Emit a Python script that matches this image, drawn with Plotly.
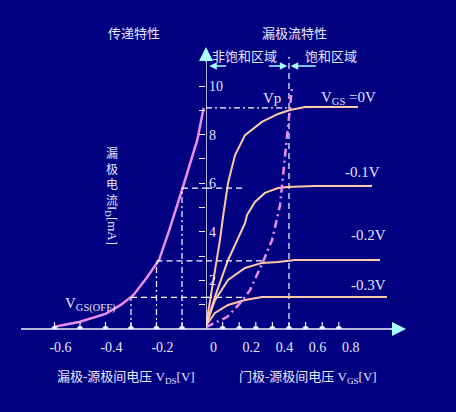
import plotly.graph_objects as go

# ---------------- data ----------------
# Transfer characteristic: drain current vs gate-source voltage
transfer_vgs = [-0.60, -0.50, -0.40, -0.34, -0.29, -0.24, -0.19, -0.15, -0.10, -0.04, -0.015]
transfer_id = [0.09, 0.30, 0.62, 0.99, 1.40, 2.09, 2.84, 4.07, 5.72, 7.78, 9.10]

# Drain characteristics: drain current vs drain-source voltage, one curve per V_GS
curve_labels = ["V<sub>GS</sub> =0V", "-0.1V", "-0.2V", "-0.3V"]
vds_0v = [0, 0.042, 0.084, 0.104, 0.134, 0.175, 0.235, 0.337, 0.434, 0.506, 0.596, 0.916]
id_0v = [0.15, 1.89, 3.66, 4.69, 6.05, 7.16, 7.98, 8.52, 8.85, 9.01, 9.14, 9.14]
vds_m01 = [0, 0.054, 0.133, 0.235, 0.247, 0.295, 0.355, 0.434, 0.494, 0.657, 1.0]
id_m01 = [0.15, 1.32, 2.84, 4.36, 4.69, 5.23, 5.60, 5.80, 5.84, 5.88, 5.88]
vds_m02 = [0, 0.054, 0.133, 0.235, 0.337, 0.434, 0.536, 1.048]
id_m02 = [0.15, 1.19, 2.02, 2.51, 2.72, 2.76, 2.84, 2.84]
vds_m03 = [0, 0.054, 0.133, 0.235, 0.337, 0.434, 1.09]
id_m03 = [0.15, 0.66, 0.99, 1.19, 1.32, 1.32, 1.32]

# Pinch-off locus (V_DS = V_GS - V_P)
locus_vds = [0, 0.127, 0.217, 0.265, 0.343, 0.398, 0.446, 0.464, 0.488, 0.506, 0.518]
locus_id = [0.08, 0.49, 1.15, 1.60, 2.76, 3.66, 5.10, 6.34, 7.86, 9.01, 9.92]

# Gate voltages and their saturation currents (projection guides)
guide_vgs = [0.0, -0.1, -0.2, -0.3]
guide_id = [9.1, 5.8, 2.8, 1.3]
guide_vds_end = [0.50, 0.24, 0.343, 0.22]
vp = 0.50

# Axis ticks
left_tickvals = [-0.6, -0.5, -0.4, -0.3, -0.2, -0.1, 0.0]
left_ticktext = ["-0.6", "", "-0.4", "", "-0.2", "", "0"]
right_tickvals = [0.1, 0.2, 0.3, 0.4, 0.5, 0.6, 0.7, 0.8]
right_ticktext = ["", "0.2", "", "0.4", "", "0.6", "", "0.8"]
y_tickvals = [1, 2, 3, 4, 5, 6, 7, 8, 9, 10]
y_ticktext = ["", "2", "", "4", "", "6", "", "8", "", "10"]

# ---------------- styling ----------------
W, H = 456, 412
BG = "#000080"
TXT = "#e6e6ff"
AXC = "#f0f0ff"
CYAN = "#a8ffff"
PEACH = "#ffc8a8"
PINK = "#ec8cec"
FONT = "Liberation Serif, Noto Sans CJK SC"
CJK = "Noto Sans CJK SC"

ORIGIN_PX = 206          # horizontal pixel of the vertical axis
LEFT_ORIGIN_PX = 207.5   # where V_GS = 0 falls on the left scale
XAXIS_PX = 329           # vertical pixel of the horizontal axis
LEFT_PX_PER_V = 255
RIGHT_PX_PER_V = 166
Y_PX_PER_MA = 24.3
TICK_MA = 7 / Y_PX_PER_MA  # upward tick mark height on the voltage axis

fig = go.Figure()

line_kw = dict(mode="lines", hoverinfo="skip", showlegend=False)

# transfer characteristic (left half: x / y)
fig.add_trace(go.Scatter(x=transfer_vgs, y=transfer_id, xaxis="x", yaxis="y",
                         line=dict(color=PINK, width=2.5), **line_kw))

# projection guides between both halves
for i, (vg, isat, vend) in enumerate(zip(guide_vgs, guide_id, guide_vds_end)):
    hdash = "6px,3px,2px,3px" if i == 0 else "6px,4px"
    fig.add_trace(go.Scatter(x=[vg, 0], y=[isat, isat], xaxis="x", yaxis="y",
                             line=dict(color="white", width=1.2, dash=hdash), **line_kw))
    if vg < 0:
        fig.add_trace(go.Scatter(x=[vg, vg], y=[0, isat], xaxis="x", yaxis="y",
                                 line=dict(color="white", width=1.2, dash="6px,3px,2px,3px"),
                                 **line_kw))
    fig.add_trace(go.Scatter(x=[0, vend], y=[isat, isat], xaxis="x2", yaxis="y2",
                             line=dict(color="white", width=1.2, dash=hdash), **line_kw))

# pinch-off voltage marker
fig.add_trace(go.Scatter(x=[vp, vp], y=[0, 11.2], xaxis="x2", yaxis="y2",
                         line=dict(color="white", width=1.2, dash="6px,4px"), **line_kw))

# drain characteristic curves (right half: x2 / y2)
for xs, ys in [(vds_0v, id_0v), (vds_m01, id_m01), (vds_m02, id_m02), (vds_m03, id_m03)]:
    fig.add_trace(go.Scatter(x=xs, y=ys, xaxis="x2", yaxis="y2",
                             line=dict(color=PEACH, width=2), **line_kw))

# pinch-off locus
fig.add_trace(go.Scatter(x=locus_vds, y=locus_id, xaxis="x2", yaxis="y2",
                         line=dict(color=PINK, width=2.5, dash="8px,4px,2px,4px"), **line_kw))

# upward tick marks on the voltage axis, drawn as one-sided error bars
for ticks, xa, ya in [([v for v in left_tickvals if v != 0], "x", "y"),
                      (right_tickvals, "x2", "y2")]:
    fig.add_trace(go.Scatter(
        x=ticks, y=[0] * len(ticks), xaxis=xa, yaxis=ya, mode="markers",
        marker=dict(size=0, color=AXC), hoverinfo="skip", showlegend=False,
        error_y=dict(type="data", symmetric=False, array=[TICK_MA] * len(ticks),
                     arrayminus=[0] * len(ticks), width=0, color=AXC, thickness=1.2)))

y_dom0 = (H - XAXIS_PX) / H
y_hi = XAXIS_PX / Y_PX_PER_MA
tickfont = dict(family=FONT, size=14, color=TXT)
left_end_px = 216

fig.update_layout(
    width=W, height=H,
    margin=dict(l=0, r=0, t=0, b=0, pad=0),
    paper_bgcolor=BG, plot_bgcolor=BG,
    xaxis=dict(domain=[0, left_end_px / W],
               range=[-LEFT_ORIGIN_PX / LEFT_PX_PER_V,
                      (left_end_px - LEFT_ORIGIN_PX) / LEFT_PX_PER_V],
               anchor="y", automargin=False,
               showgrid=False, zeroline=False, showline=False,
               tickmode="array", tickvals=left_tickvals, ticktext=left_ticktext,
               ticks="", tickfont=tickfont, ticklabelshift=6, ticklabelstandoff=8),
    xaxis2=dict(domain=[ORIGIN_PX / W, 1], range=[0, (W - ORIGIN_PX) / RIGHT_PX_PER_V],
                anchor="y2", automargin=False,
                showgrid=False, zeroline=False, showline=False,
                tickmode="array", tickvals=right_tickvals, ticktext=right_ticktext,
                ticks="", tickfont=tickfont, ticklabelshift=12, ticklabelstandoff=8),
    # shared current scale; y carries the left half, y2 draws the ticks
    yaxis=dict(domain=[y_dom0, 1], range=[0, y_hi], anchor="x",
               automargin=False, showgrid=False, zeroline=False, showline=False,
               ticks="", showticklabels=False),
    yaxis2=dict(domain=[y_dom0, 1], range=[0, y_hi],
                anchor="x2", side="left", automargin=False,
                showgrid=False, zeroline=False, showline=False,
                tickmode="array", tickvals=y_tickvals, ticktext=y_ticktext,
                ticks="outside", ticklen=6, tickcolor=AXC, tickwidth=1.2,
                ticklabelposition="inside", tickfont=tickfont),
)

# axis lines
fig.add_shape(type="line", xref="paper", yref="paper", x0=21 / W, x1=398 / W,
              y0=y_dom0, y1=y_dom0, line=dict(color=AXC, width=1.5))
fig.add_shape(type="line", xref="x2", yref="y2", x0=0, x1=0, y0=0, y1=11.1,
              line=dict(color=AXC, width=1.5))

arrow_kw = dict(showarrow=True, arrowhead=2, arrowcolor=CYAN, text="")
fig.add_annotation(x=(406 - ORIGIN_PX) / RIGHT_PX_PER_V, y=0, xref="x2", yref="y2",
                   ax=-16, ay=0, arrowsize=1.4, arrowwidth=2, **arrow_kw)
fig.add_annotation(x=0, y=(XAXIS_PX - 47) / Y_PX_PER_MA, xref="x2", yref="y2",
                   ax=0, ay=16, arrowsize=1.4, arrowwidth=2, **arrow_kw)

# region arrows (non-saturated / saturated)
region_y = (XAXIS_PX - 66) / Y_PX_PER_MA
for head, tail in [(0.02, 0.13), (vp - 0.01, 0.37), (vp + 0.01, 0.67)]:
    fig.add_annotation(x=head, y=region_y, xref="x2", yref="y2",
                       ax=tail, ay=region_y, axref="x2", ayref="y2",
                       arrowsize=1, arrowwidth=1.5, **arrow_kw)

# text labels
def label(text, x, y, size=13, family=FONT, **kw):
    fig.add_annotation(text=text, x=x, y=y, showarrow=False,
                       xanchor="center", yanchor="middle",
                       font=dict(family=family, size=size, color=TXT), **kw)

def px_label(text, px, py, size=13, family=FONT, **kw):
    label(text, px / W, 1 - py / H, size, family, xref="paper", yref="paper", **kw)

px_label("传递特性", 134, 33, family=CJK)
px_label("漏极流特性", 294, 33, family=CJK)
px_label("非饱和区域", 245, 56, family=CJK)
px_label("饱和区域", 331, 56, family=CJK)
px_label("漏极-源极间电压 V<sub>DS</sub>[V]", 126, 377)
px_label("门极-源极间电压 V<sub>GS</sub>[V]", 308, 377)

# vertical axis title: stacked characters plus rotated unit
px_label("<br>".join("漏极电流"), 112, 176, size=12, family=CJK)
px_label("I<sub>D</sub>[mA]", 112, 225, textangle=90)

label("Vp", 0.40, 9.5, size=15, xref="x2", yref="y2")
label("V<sub>GS(OFF)</sub>", -0.46, 0.99, size=15, xref="x", yref="y")
for text, xv, yv in zip(curve_labels, [0.86, 0.94, 0.976, 0.976], [9.5, 6.46, 3.87, 1.81]):
    label(text, xv, yv, size=15, xref="x2", yref="y2")

fig.write_html("out.html")
